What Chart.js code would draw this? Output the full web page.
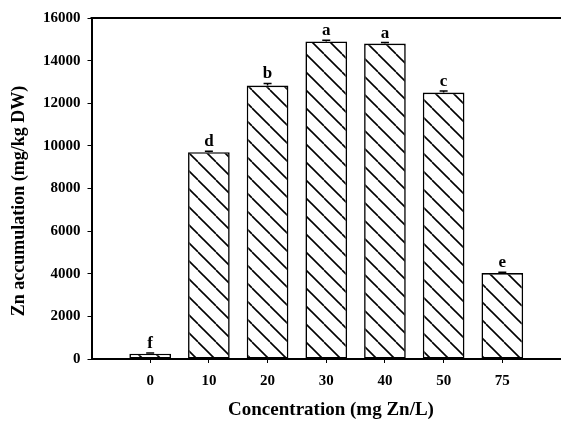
<!DOCTYPE html>
<html>
<head>
<meta charset="utf-8">
<script src="https://cdn.jsdelivr.net/npm/chart.js@4.4.1/dist/chart.umd.min.js"></script>
<style>
  html, body { margin: 0; padding: 0; background: #fff; }
  #wrap { width: 561px; height: 421px; }
</style>
</head>
<body>
<div id="wrap"><canvas id="myChart"></canvas></div>
<script>
// valores
const concentrations = ["0", "10", "20", "30", "40", "50", "75"];
const znAccumulation = [250, 9700, 12830, 14900, 14800, 12500, 4030];
const errors = [30, 50, 100, 60, 50, 80, 40];
const letters = ["f", "d", "b", "a", "a", "c", "e"];
const yTicks = [0, 2000, 4000, 6000, 8000, 10000, 12000, 14000, 16000];
const xTitle = "Concentration (mg Zn/L)";
const yTitle = "Zn accumulation (mg/kg DW)";

const FONT = "'Liberation Serif', 'Times New Roman', serif";

// eixo com uma posição vazia em cada ponta
const labels = ["", ...concentrations, ""];
const values = [null, ...znAccumulation, null];

function makeHatch() {
  const size = 18;
  const c = document.createElement("canvas");
  c.width = size;
  c.height = size;
  const g = c.getContext("2d");
  g.fillStyle = "#fff";
  g.fillRect(0, 0, size, size);
  g.strokeStyle = "#000";
  g.lineWidth = 1.6;
  for (const k of [-size, 0, size]) {
    g.beginPath();
    g.moveTo(k, 0);
    g.lineTo(k + size, size);
    g.stroke();
  }
  return g.createPattern(c, "repeat");
}

const extras = {
  id: "extras",
  afterDatasetsDraw(chart) {
    const c = chart.ctx;
    const y = chart.scales.y;
    const area = chart.chartArea;
    const meta = chart.getDatasetMeta(0);

    c.save();
    // linha superior do quadro
    c.strokeStyle = "#000";
    c.lineWidth = 2;
    c.beginPath();
    c.moveTo(area.left - 1, area.top);
    c.lineTo(chart.width, area.top);
    c.stroke();

    znAccumulation.forEach((v, i) => {
      const bar = meta.data[i + 1];
      const x = bar.x;
      const yTop = y.getPixelForValue(v + errors[i]);
      const yVal = y.getPixelForValue(v);
      // barra de erro
      c.lineWidth = 1.5;
      c.beginPath();
      c.moveTo(x, yVal);
      c.lineTo(x, yTop);
      c.moveTo(x - 4, yTop);
      c.lineTo(x + 4, yTop);
      c.stroke();
      // letras
      c.fillStyle = "#000";
      c.font = "bold 17px " + FONT;
      c.textAlign = "center";
      c.textBaseline = "alphabetic";
      c.fillText(letters[i], x, yTop - 5);
    });

    // títulos dos eixos
    c.fillStyle = "#000";
    c.textAlign = "center";
    c.textBaseline = "middle";
    c.font = "bold 19px " + FONT;
    c.fillText(xTitle, 331, 410);
    c.translate(19, 201);
    c.rotate(-Math.PI / 2);
    c.font = "bold 18px " + FONT;
    c.fillText(yTitle, 0, 0);
    c.restore();
  },
};

new Chart(document.getElementById("myChart"), {
  type: "bar",
  data: {
    labels: labels,
    datasets: [
      {
        data: values,
        backgroundColor: makeHatch(),
        borderColor: "#000",
        borderWidth: 1.6,
        borderSkipped: false,
        categoryPercentage: 1,
        barPercentage: 0.71,
      },
    ],
  },
  options: {
    responsive: true,
    maintainAspectRatio: false,
    animation: false,
    layout: { padding: { left: 36, right: 0, top: 18, bottom: 22 } },
    plugins: {
      legend: { display: false },
      tooltip: { enabled: false },
    },
    scales: {
      x: {
        offset: false,
        afterFit: (scale) => {
          scale.paddingRight = 0;
        },
        grid: {
          offset: false,
          drawOnChartArea: false,
          drawTicks: true,
          tickLength: 4,
          tickColor: (ctx) => (ctx.index === 0 || ctx.index === labels.length - 1 ? "rgba(0,0,0,0)" : "#000"),
          tickWidth: 1,
        },
        border: { color: "#000", width: 2 },
        ticks: {
          color: "#000",
          font: { family: FONT, size: 15, weight: "bold" },
          padding: 9,
          maxRotation: 0,
          autoSkip: false,
        },
      },
      y: {
        min: 0,
        max: 16000,
        afterBuildTicks: (axis) => {
          axis.ticks = yTicks.map((v) => ({ value: v }));
        },
        grid: {
          drawOnChartArea: false,
          drawTicks: true,
          tickLength: 4,
          tickColor: "#000",
          tickWidth: 1,
        },
        border: { color: "#000", width: 2 },
        ticks: {
          color: "#000",
          font: { family: FONT, size: 15, weight: "bold" },
          padding: 7,
          callback: (v) => String(v),
        },
      },
    },
  },
  plugins: [extras],
});
</script>
</body>
</html>
